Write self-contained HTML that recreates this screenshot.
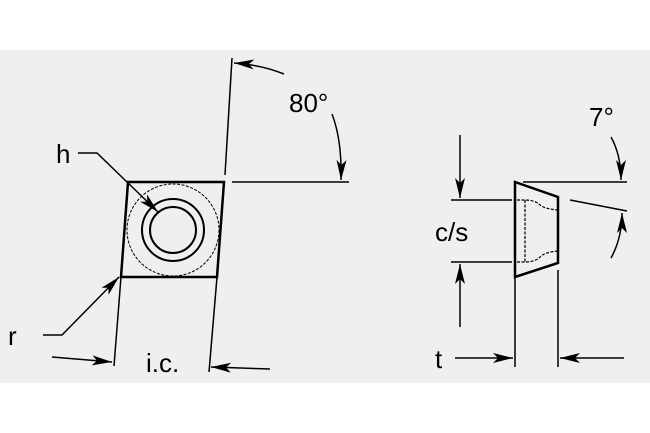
<!DOCTYPE html>
<html><head><style>html,body{margin:0;padding:0;background:#fff}svg{display:block}</style></head>
<body>
<svg width="650" height="433" viewBox="0 0 650 433" xmlns="http://www.w3.org/2000/svg" font-family="Liberation Sans, sans-serif">
<defs>
<marker id="a" viewBox="0 0 20 10" refX="20" refY="5" markerWidth="20" markerHeight="10" markerUnits="userSpaceOnUse" orient="auto"><path d="M0,0 L20,5 L0,10 L5,5 Z" fill="#000"/></marker>
</defs>
<rect x="0" y="50" width="650" height="333" fill="#efefef"/>
<g stroke="#000" fill="none">
<path d="M128,182 L224,182 L217,277 L121,277 Z" stroke-width="2.5"/>
<circle cx="173" cy="230" r="46" stroke-width="1" stroke-dasharray="3,1.5"/>
<circle cx="173" cy="230" r="31" stroke-width="2"/>
<circle cx="173" cy="230" r="23" stroke-width="2"/>
<line x1="232" y1="58" x2="225" y2="175" stroke-width="1.5"/>
<line x1="232" y1="182" x2="349" y2="182" stroke-width="1.5"/>
<line x1="121" y1="277" x2="114" y2="366" stroke-width="1.5"/>
<line x1="217" y1="277" x2="209" y2="372" stroke-width="1.5"/>
<path d="M284,74 Q262,65 234,63" stroke-width="1.5" marker-end="url(#a)"/>
<path d="M332,114 Q342,140 341,180" stroke-width="1.5" marker-end="url(#a)"/>
<path d="M78,153 L97,153 L158,212" stroke-width="1.5" marker-end="url(#a)"/>
<path d="M43,335 L62,335 L119,277" stroke-width="1.5" marker-end="url(#a)"/>
<line x1="52" y1="357" x2="112" y2="362" stroke-width="1.5" marker-end="url(#a)"/>
<line x1="270" y1="369" x2="211" y2="367" stroke-width="1.5" marker-end="url(#a)"/>

<path d="M515,182 L558,197 L558,263 L515,277 Z" stroke-width="2.5"/>
<g stroke-width="1.2" stroke-dasharray="3,1.5">
<path d="M517,200 L525,200 Q535,200 540,205 Q545,209 558,210"/>
<path d="M517,262 L525,262 Q535,262 540,257 Q545,252 558,251"/>
<line x1="525" y1="200" x2="525" y2="262"/>
</g>
<line x1="523" y1="182" x2="627" y2="182" stroke-width="1.5"/>
<line x1="570" y1="200" x2="627" y2="211" stroke-width="1.5"/>
<path d="M611,137 Q621,155 621,180" stroke-width="1.5" marker-end="url(#a)"/>
<path d="M611,258 Q622,238 622,213" stroke-width="1.5" marker-end="url(#a)"/>
<line x1="451" y1="200" x2="512" y2="200" stroke-width="1.5"/>
<line x1="451" y1="262" x2="512" y2="262" stroke-width="1.5"/>
<line x1="460" y1="135" x2="460" y2="198" stroke-width="1.5" marker-end="url(#a)"/>
<line x1="460" y1="327" x2="460" y2="264" stroke-width="1.5" marker-end="url(#a)"/>
<line x1="515" y1="277" x2="515" y2="367" stroke-width="1.5"/>
<line x1="558" y1="270" x2="558" y2="367" stroke-width="1.5"/>
<line x1="455" y1="358" x2="513" y2="358" stroke-width="1.5" marker-end="url(#a)"/>
<line x1="624" y1="358" x2="560" y2="358" stroke-width="1.5" marker-end="url(#a)"/>
</g>
<g fill="#000" font-size="26">
<text x="289" y="112">80°</text>
<text x="56" y="163">h</text>
<text x="8" y="345">r</text>
<text x="146" y="372">i.c.</text>
<text x="589" y="126">7°</text>
<text x="435" y="241">c/s</text>
<text x="435" y="368">t</text>
</g>
</svg>
</body></html>
